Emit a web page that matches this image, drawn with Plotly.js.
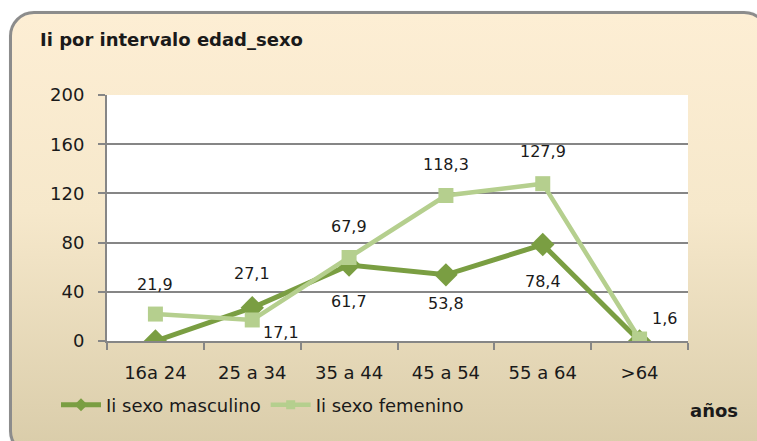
<!DOCTYPE html>
<html>
<head>
<meta charset="utf-8">
<script src="https://cdn.plot.ly/plotly-3.0.1.min.js"></script>
<style>
  html, body { margin:0; padding:0; background:#ffffff; width:757px; height:441px; overflow:hidden; }
  #frame { position:absolute; left:9px; top:11px; width:760px; height:445px; box-sizing:border-box;
           border:3px solid #8c8c8c; border-radius:25px;
           background:linear-gradient(180deg, #fdeed4 0%, #f6e8cb 45%, #d9cca9 100%);
           box-shadow: 1px 1px 2px rgba(0,0,0,0.35); }
  #chart { position:absolute; left:0; top:0; width:757px; height:441px; }
</style>
</head>
<body>
<div id="frame"></div>
<div id="chart"></div>
<script>
const categories = ["16a 24", "25 a 34", "35 a 44", "45 a 54", "55 a 64", ">64"];
const masculino = [0, 27.1, 61.7, 53.8, 78.4, 0];
const femenino = [21.9, 17.1, 67.9, 118.3, 127.9, 1.6];
const seriesNames = ['Ii sexo masculino', 'Ii sexo femenino'];
const yTicks = [0, 40, 80, 120, 160, 200];

// label offsets (pixels) relative to each point
const mascShift = [null, [0, 34], [0, -36], [0, -29], [0, -37], null];
const femShift = [[0, 30], [29, -13], [0, 31], [0, 31], [0, 32], [25, 21]];

const fmt = v => v.toFixed(1).replace('.', ',');
const mascColor = '#7a9e42';
const femColor = '#b5cf8e';
const tickFont = {family: 'DejaVu Sans', size: 18, color: '#1a1a1a'};

const traces = [
  {x: categories, y: masculino, name: seriesNames[0], type: 'scatter', mode: 'lines+markers', showlegend: false,
   line: {color: mascColor, width: 5}, marker: {symbol: 'diamond', size: 18, color: mascColor}},
  {x: categories, y: femenino, name: seriesNames[1], type: 'scatter', mode: 'lines+markers', showlegend: false,
   line: {color: femColor, width: 4.5}, marker: {symbol: 'square', size: 15, color: femColor}},
  // legend entries (no data drawn) with smaller symbols, as in the reference legend
  {x: [null], y: [null], name: seriesNames[0], type: 'scatter', mode: 'lines+markers',
   line: {color: mascColor, width: 5}, marker: {symbol: 'diamond', size: 10, color: mascColor}},
  {x: [null], y: [null], name: seriesNames[1], type: 'scatter', mode: 'lines+markers',
   line: {color: femColor, width: 4.5}, marker: {symbol: 'square', size: 9, color: femColor}}
];

const annotations = [];
function addLabels(vals, shifts) {
  vals.forEach((v, i) => {
    if (!shifts[i]) return;
    annotations.push({x: categories[i], y: v, xref: 'x', yref: 'y', text: fmt(v), showarrow: false,
      xshift: shifts[i][0], yshift: shifts[i][1], font: {family: 'DejaVu Sans', size: 16, color: '#1a1a1a'}});
  });
}
addLabels(masculino, mascShift);
addLabels(femenino, femShift);
annotations.push({xref: 'paper', yref: 'paper', x: 1.0448, y: -0.2805, xanchor: 'center', yanchor: 'middle',
  text: '<b>años</b>', showarrow: false, font: {family: 'DejaVu Sans', size: 18, color: '#1a1a1a'}});

const layout = {
  width: 757, height: 441,
  margin: {l: 107, r: 69, t: 95, b: 100},
  paper_bgcolor: 'rgba(0,0,0,0)', plot_bgcolor: '#ffffff',
  title: {text: '<b>Ii por intervalo edad_sexo</b>', x: 40/757, xanchor: 'left', xref: 'container',
          y: 1 - 40/441, yanchor: 'middle', yref: 'container',
          font: {family: 'DejaVu Sans', size: 18, color: '#1a1a1a'}},
  showlegend: true,
  legend: {orientation: 'h', xref: 'container', yref: 'container', x: 56/757, y: 1 - 405/441,
           xanchor: 'left', yanchor: 'middle', bgcolor: 'rgba(0,0,0,0)',
           font: {family: 'DejaVu Sans', size: 18, color: '#1a1a1a'}, itemwidth: 40},
  xaxis: {type: 'category', range: [-0.5, 5.5], tickson: 'boundaries', ticks: 'outside', ticklen: 7,
          tickwidth: 2, tickcolor: '#868686', showline: true, linecolor: '#868686', linewidth: 2,
          showgrid: false, zeroline: false, tickfont: tickFont, ticklabelstandoff: 14, fixedrange: true},
  yaxis: {range: [0, 200], tickvals: yTicks, ticktext: yTicks.map(String), ticks: 'outside', ticklen: 7,
          tickwidth: 2, tickcolor: '#868686', showline: true, linecolor: '#868686', linewidth: 2,
          showgrid: true, gridcolor: '#868686', gridwidth: 2, zeroline: false, tickfont: tickFont,
          ticklabelstandoff: 10, fixedrange: true},
  annotations: annotations
};

Plotly.newPlot('chart', traces, layout, {staticPlot: true, displayModeBar: false});
</script>
</body>
</html>
